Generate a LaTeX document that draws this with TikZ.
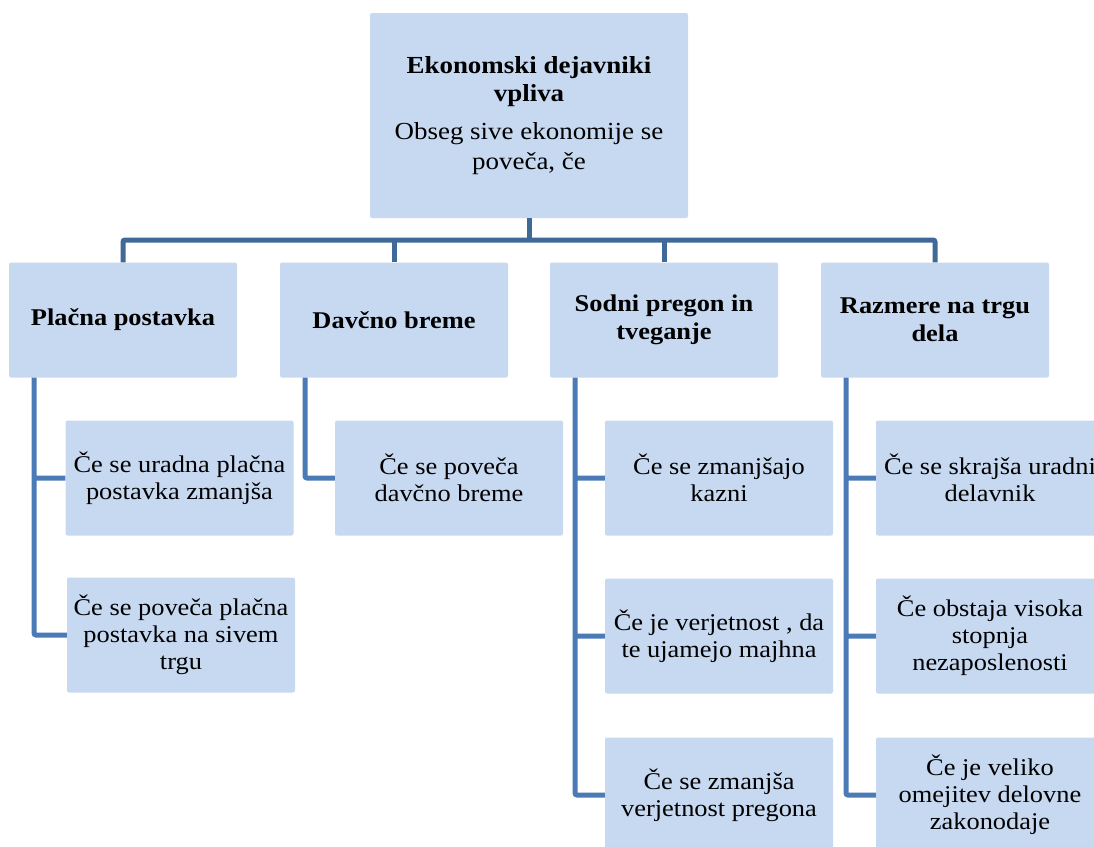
\documentclass[tikz,border=0pt]{standalone}
\usepackage{fontspec}
\setmainfont{Liberation Serif}[FakeStretch=1.1]
\usepackage{tikz}
\definecolor{boxblue}{HTML}{C6D9F1}
\definecolor{busline}{HTML}{3F6A98}
\definecolor{subline}{HTML}{4A7BB7}

\begin{document}
\begin{tikzpicture}[x=1pt,y=-1pt,
  box/.style={fill=boxblue,rounded corners=2pt,minimum width=228pt,minimum height=115pt,
    align=center,inner sep=0pt,font=\fontsize{24}{27}\selectfont},
  head/.style={box,font=\fontsize{24}{28}\selectfont\bfseries},
  busline/.style={draw=busline,line width=5pt,rounded corners=2pt},
  subline/.style={draw=subline,line width=5pt,rounded corners=2pt}]
\useasboundingbox (0,0) rectangle (1094,846);

\draw (529,115.5) node[box,minimum width=318pt,minimum height=205pt,
    font=\fontsize{24.5}{29.5}\selectfont] (top)
  {\textbf{Ekonomski dejavniki}\\[-2pt]\textbf{vpliva}\\[9pt]Obseg sive ekonomije se\\poveča, če} ;

\draw (123,320) node[head] (pl) {Plačna postavka} ;
\draw (394,320) node[head] (dv) {Davčno breme} ;
\draw (664,320) node[head] (sp) {Sodni pregon in\\tveganje} ;
\draw (935,320) node[head] (rz) {Razmere na trgu\\dela} ;

\coordinate (bus) at (528,240) ;
\draw[busline] (top) -- (top |- bus) ;
\draw[busline] (pl) |- (bus) -| (rz) ;
\draw[busline] (dv) -- (dv |- bus)   (sp) -- (sp |- bus) ;

\draw (179.5,478) node[box] (pl1) {Če se uradna plačna\\postavka zmanjša} ;
\draw (181,635) node[box] (pl2) {Če se poveča plačna\\postavka na sivem\\trgu} ;
\draw[subline] ([xshift=-89pt]pl.south) |- (pl1)   ([xshift=-89pt]pl.south) |- (pl2) ;

\draw (449,478) node[box] (dv1) {Če se poveča\\davčno breme} ;
\draw[subline] ([xshift=-89pt]dv.south) |- (dv1) ;

\draw (719,478) node[box] (sp1) {Če se zmanjšajo\\kazni} ;
\draw (719,636) node[box] (sp2) {Če je verjetnost , da\\te ujamejo majhna} ;
\draw (719,795) node[box] (sp3) {Če se zmanjša\\verjetnost pregona} ;
\draw[subline] ([xshift=-89pt]sp.south) |- (sp1)   ([xshift=-89pt]sp.south) |- (sp2)
  ([xshift=-89pt]sp.south) |- (sp3) ;

\draw (990,478) node[box] (rz1) {Če se skrajša uradni\\delavnik} ;
\draw (990,636) node[box] (rz2) {Če obstaja visoka\\stopnja\\nezaposlenosti} ;
\draw (990,795) node[box] (rz3) {Če je veliko\\omejitev delovne\\zakonodaje} ;
\draw[subline] ([xshift=-89pt]rz.south) |- (rz1)   ([xshift=-89pt]rz.south) |- (rz2)
  ([xshift=-89pt]rz.south) |- (rz3) ;

\end{tikzpicture}
\end{document}
